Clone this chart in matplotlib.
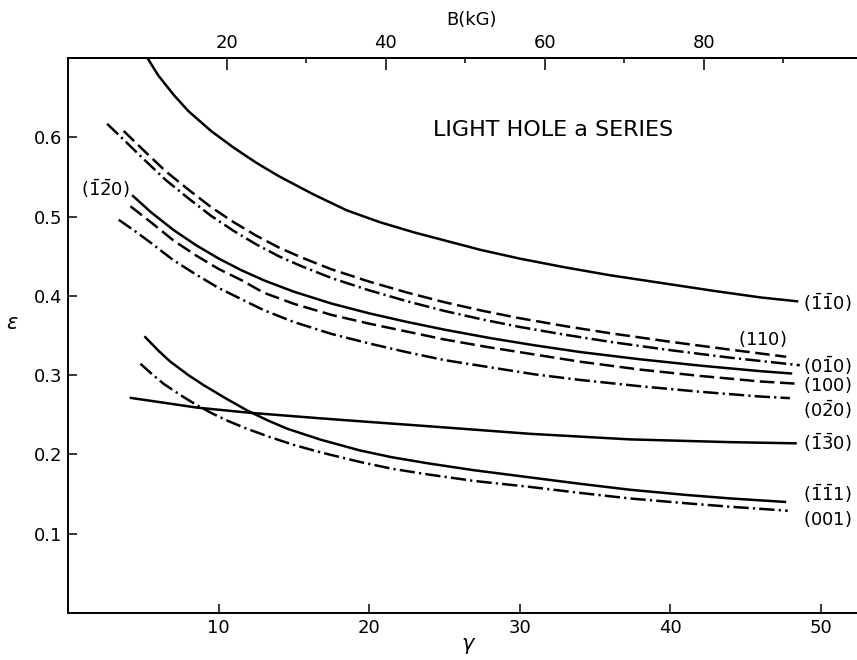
import matplotlib
matplotlib.use('Agg')
import matplotlib.pyplot as plt

plt.rcParams['font.family'] = 'DejaVu Sans'
plt.rcParams['mathtext.fontset'] = 'dejavusans'
plt.rcParams['lines.scale_dashes'] = False

# B (kG) per unit of gamma, for the top axis
B_PER_GAMMA = 1.895

# light hole a-series transition energies, eps vs gamma
g_m1m10 = [5.28, 6.0, 7.0, 8.0, 9.5, 11.0, 12.5, 14.0, 16.3, 18.5, 20.7, 23.0, 25.2, 27.4, 30.0, 33.0, 36.0, 39.5, 43.0, 46.0, 48.5]
e_m1m10 = [0.700, 0.678, 0.654, 0.633, 0.608, 0.587, 0.568, 0.551, 0.528, 0.508, 0.493, 0.480, 0.469, 0.458, 0.447, 0.436, 0.426, 0.416, 0.406, 0.398, 0.393]

g_110 = [3.7, 5.0, 6.5, 8.0, 9.5, 11.0, 12.5, 14.0, 15.5, 17.5, 20.0, 22.5, 25.0, 27.5, 30.0, 33.0, 36.0, 40.0, 44.0, 47.7]
e_110 = [0.608, 0.584, 0.557, 0.534, 0.512, 0.493, 0.476, 0.461, 0.4485, 0.4335, 0.418, 0.4043, 0.392, 0.3813, 0.3718, 0.3619, 0.3529, 0.3421, 0.3321, 0.3232]

g_0m10 = [2.6, 3.7, 5.0, 6.5, 8.0, 9.5, 11.0, 12.5, 14.0, 15.5, 17.5, 20.0, 22.5, 25.0, 27.5, 30.0, 33.0, 36.0, 40.0, 44.0, 48.6]
e_0m10 = [0.617, 0.597, 0.573, 0.546, 0.523, 0.501, 0.482, 0.465, 0.450, 0.4375, 0.4225, 0.407, 0.3933, 0.381, 0.3703, 0.3608, 0.351, 0.342, 0.3315, 0.322, 0.3125]

g_m1m20 = [4.26, 5.5, 7.0, 8.5, 10.0, 11.5, 13.0, 15.0, 17.5, 20.0, 22.5, 25.0, 28.0, 31.0, 34.0, 38.0, 42.0, 46.0, 48.1]
e_m1m20 = [0.527, 0.5057, 0.4832, 0.464, 0.4472, 0.4325, 0.4197, 0.4053, 0.3903, 0.378, 0.3672, 0.3574, 0.3469, 0.3376, 0.3292, 0.320, 0.312, 0.305, 0.302]

g_100 = [4.15, 5.5, 7.0, 8.5, 10.0, 11.5, 13.0, 15.0, 17.5, 20.0, 22.5, 25.0, 28.0, 31.0, 34.0, 38.0, 42.0, 46.0, 48.6]
e_100 = [0.513, 0.493, 0.470, 0.451, 0.434, 0.420, 0.404, 0.390, 0.376, 0.365, 0.355, 0.345, 0.335, 0.326, 0.317, 0.307, 0.299, 0.292, 0.289]

g_0m20 = [3.37, 4.5, 5.5, 7.0, 8.5, 10.0, 11.5, 13.0, 15.0, 17.5, 20.0, 22.5, 25.0, 28.0, 31.0, 34.0, 38.0, 42.0, 46.0, 47.94]
e_0m20 = [0.496, 0.481, 0.467, 0.445, 0.427, 0.410, 0.396, 0.382, 0.367, 0.352, 0.340, 0.329, 0.319, 0.310, 0.301, 0.294, 0.286, 0.279, 0.273, 0.271]

g_m1m30 = [4.1, 8.6, 12.1, 16.8, 20.0, 24.0, 30.7, 37.3, 44.0, 48.4]
e_m1m30 = [0.2715, 0.259, 0.2525, 0.2455, 0.241, 0.2355, 0.226, 0.219, 0.2155, 0.214]

g_m1m11 = [5.08, 6.0, 6.8, 8.0, 9.0, 10.5, 11.9, 13.2, 14.55, 16.8, 19.4, 21.5, 24.0, 27.0, 30.7, 34.0, 37.3, 41.0, 44.0, 47.7]
e_m1m11 = [0.349, 0.331, 0.317, 0.300, 0.2875, 0.2705, 0.2555, 0.2435, 0.2325, 0.2185, 0.205, 0.1965, 0.1885, 0.180, 0.171, 0.163, 0.1555, 0.149, 0.1445, 0.140]

g_001 = [4.81, 5.6, 6.36, 7.5, 8.57, 9.6, 10.6, 11.8, 13.4, 15.0, 16.8, 19.4, 21.5, 24.0, 27.0, 30.7, 34.0, 37.3, 41.0, 44.0, 47.8]
e_001 = [0.3144, 0.301, 0.289, 0.2745, 0.262, 0.2515, 0.2425, 0.233, 0.222, 0.212, 0.2025, 0.1905, 0.182, 0.1745, 0.1665, 0.159, 0.1515, 0.1445, 0.1385, 0.134, 0.129]

x_ticks = [10, 20, 30, 40, 50]
y_ticks = [0.1, 0.2, 0.3, 0.4, 0.5, 0.6]
b_ticks = [20, 40, 60, 80]
b_minor = [30, 50, 70, 90]

DASHED = (0, (10.5, 4))
DASHDOT = (0, (11, 3, 1.6, 3))

curves = [
    (g_m1m10, e_m1m10, '-'),
    (g_110, e_110, DASHED),
    (g_0m10, e_0m10, DASHDOT),
    (g_m1m20, e_m1m20, '-'),
    (g_100, e_100, DASHED),
    (g_0m20, e_0m20, DASHDOT),
    (g_m1m30, e_m1m30, '-'),
    (g_m1m11, e_m1m11, '-'),
    (g_001, e_001, DASHDOT),
]

fig = plt.figure(figsize=(8.57, 6.6), dpi=100)
ax = fig.add_axes([0.0793, 0.0712, 0.9207, 0.8409])

for g, e, ls in curves:
    ax.plot(g, e, color='black', lw=1.8, linestyle=ls, solid_capstyle='butt',
            solid_joinstyle='round')

ax.set_xlim(0, 52.4)
ax.set_ylim(0, 0.7)

for side in ['left', 'bottom', 'top']:
    ax.spines[side].set_linewidth(1.4)
ax.spines['right'].set_visible(False)

ax.set_xticks(x_ticks)
ax.set_xticklabels([str(v) for v in x_ticks])
ax.set_yticks(y_ticks)
ax.set_yticklabels(['%.1f' % v for v in y_ticks])
ax.tick_params(direction='in', length=6.5, width=1.1, labelsize=13, pad=4,
               top=False, right=False)

secax = ax.secondary_xaxis('top', functions=(lambda g: g * B_PER_GAMMA,
                                             lambda b: b / B_PER_GAMMA))
secax.set_xticks(b_ticks)
secax.set_xticklabels([str(v) for v in b_ticks])
secax.set_xticks(b_minor, minor=True)
secax.tick_params(which='major', direction='in', length=8.6, width=1.1, labelsize=13, pad=4)
secax.tick_params(which='minor', direction='in', length=3.6, width=1.1)
secax.spines['top'].set_linewidth(1.4)

ax.text(0.512, 1.052, 'B(kG)', fontsize=13, ha='center', va='bottom',
        transform=ax.transAxes)
ax.text(0.508, -0.078, r'$\gamma$', fontsize=15, ha='center', va='bottom',
        transform=ax.transAxes)
ax.text(-0.071, 0.523, r'$\epsilon$', fontsize=15, ha='center', va='center',
        transform=ax.transAxes)

ax.text(32.2, 0.609, 'LIGHT HOLE a SERIES', fontsize=16, ha='center', va='center')

# curve labels on the right
lab_kw = dict(fontsize=13, ha='left', va='center')
ax.text(48.8, 0.392, r'$(\bar{1}\bar{1}0)$', **lab_kw)
ax.text(46.1, 0.345, r'$(110)$', fontsize=13, ha='center', va='center')
ax.text(48.8, 0.312, r'$(0\bar{1}0)$', **lab_kw)
ax.text(48.8, 0.287, r'$(100)$', **lab_kw)
ax.text(48.8, 0.257, r'$(0\bar{2}0)$', **lab_kw)
ax.text(48.8, 0.215, r'$(\bar{1}\bar{3}0)$', **lab_kw)
ax.text(48.8, 0.150, r'$(\bar{1}\bar{1}1)$', **lab_kw)
ax.text(48.8, 0.119, r'$(001)$', **lab_kw)
ax.text(2.49, 0.5355, r'$(\bar{1}\bar{2}0)$', fontsize=13, ha='center', va='center')

fig.savefig('out.png', dpi=100)
